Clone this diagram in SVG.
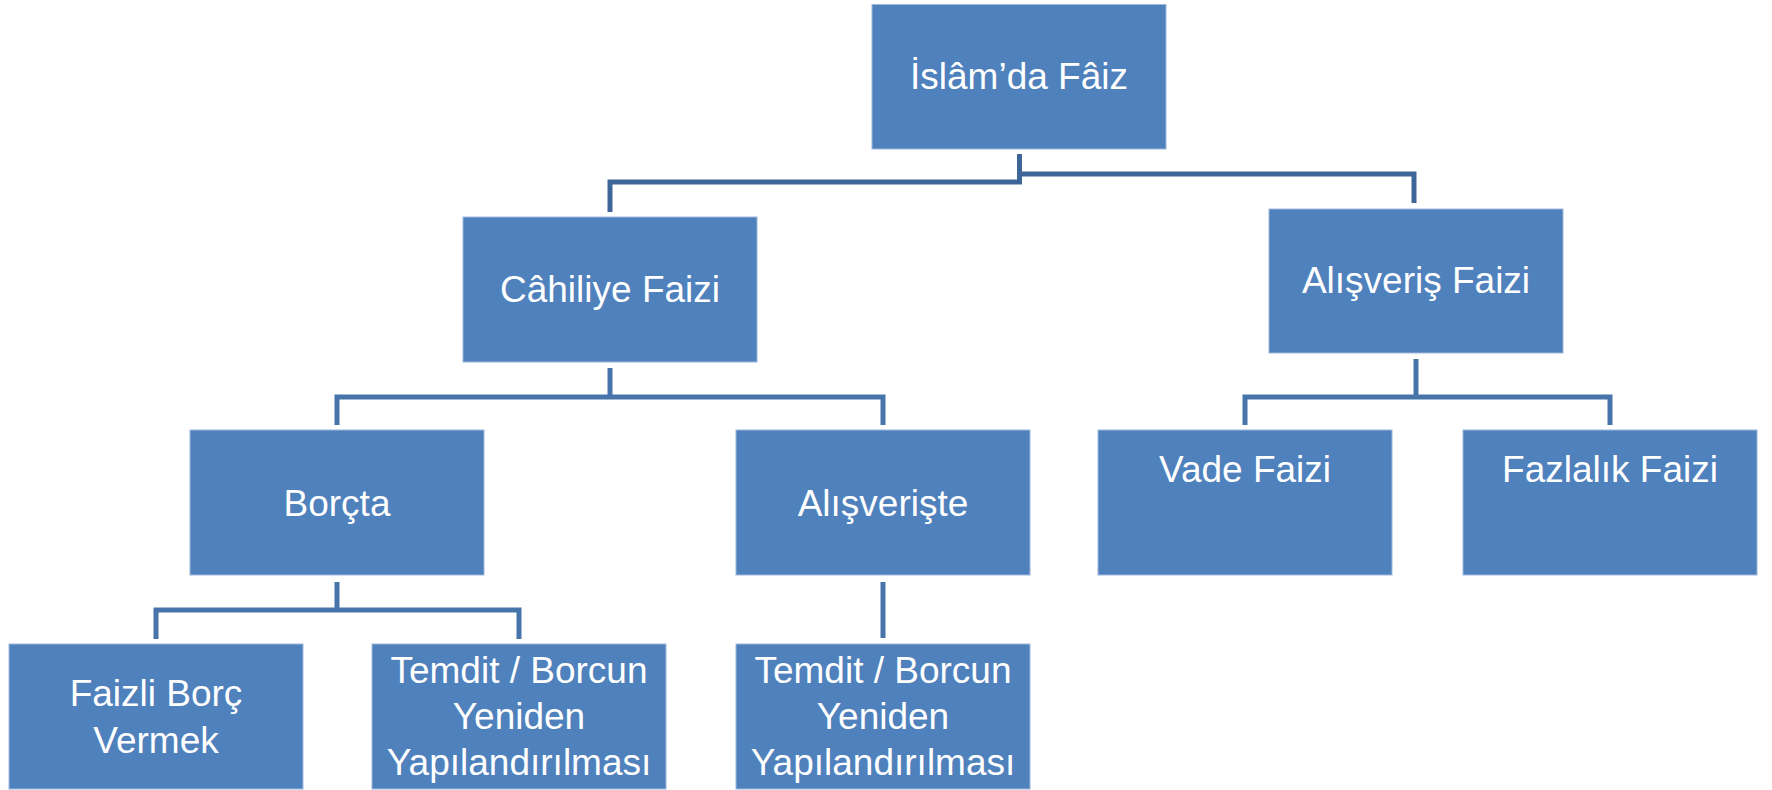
<svg xmlns="http://www.w3.org/2000/svg" width="1772" height="790" viewBox="0 0 1772 790">
<style>
.box{fill:#4F81BD;stroke:#9DB7DA;stroke-width:1}
.t{font-family:"Liberation Sans",Arial,sans-serif;font-size:37px;fill:#FFFFFF;text-anchor:middle}
.c{fill:none;stroke:#4774AA;stroke-width:5;stroke-linejoin:miter;stroke-linecap:butt}
.c0{stroke:#3F6698}
</style>
<rect width="1772" height="790" fill="#FFFFFF"/>
<g id="connectors">
<path class="c c0" d="M1019.5,154 V182 H610 V212"/>
<path class="c c0" d="M1019.5,174 H1414 V203"/>
<path class="c" d="M610,368 V397"/>
<path class="c" d="M337,425 V397 H883 V425"/>
<path class="c" d="M1416,359 V397"/>
<path class="c" d="M1245,425 V397 H1610 V425"/>
<path class="c" d="M337,582 V610"/>
<path class="c" d="M156,639 V610 H519 V639"/>
<path class="c" d="M883,582 V638"/>
</g>
<g id="n-islam"><rect class="box" x="872" y="4.5" width="294" height="144.5"/><text class="t" x="1019" y="89">İslâm’da Fâiz</text></g>
<g id="n-cahiliye"><rect class="box" x="463" y="217" width="294" height="145"/><text class="t" x="610" y="302">Câhiliye Faizi</text></g>
<g id="n-alisveris-faizi"><rect class="box" x="1269" y="209" width="294" height="144"/><text class="t" x="1416" y="293">Alışveriş Faizi</text></g>
<g id="n-borcta"><rect class="box" x="190" y="430" width="294" height="145"/><text class="t" x="337" y="516">Borçta</text></g>
<g id="n-alisveriste"><rect class="box" x="736" y="430" width="294" height="145"/><text class="t" x="883" y="516">Alışverişte</text></g>
<g id="n-vade"><rect class="box" x="1098" y="430" width="294" height="145"/><text class="t" x="1245" y="482">Vade Faizi</text></g>
<g id="n-fazlalik"><rect class="box" x="1463" y="430" width="294" height="145"/><text class="t" x="1610" y="482">Fazlalık Faizi</text></g>
<g id="n-faizli"><rect class="box" x="9" y="644" width="294" height="145"/><text class="t" x="156" y="706">Faizli Borç</text><text class="t" x="156" y="753">Vermek</text></g>
<g id="n-temdit1"><rect class="box" x="372" y="644" width="294" height="145"/><text class="t" x="519" y="683">Temdit / Borcun</text><text class="t" x="519" y="729">Yeniden</text><text class="t" x="519" y="775">Yapılandırılması</text></g>
<g id="n-temdit2"><rect class="box" x="736" y="644" width="294" height="145"/><text class="t" x="883" y="683">Temdit / Borcun</text><text class="t" x="883" y="729">Yeniden</text><text class="t" x="883" y="775">Yapılandırılması</text></g>
</svg>
